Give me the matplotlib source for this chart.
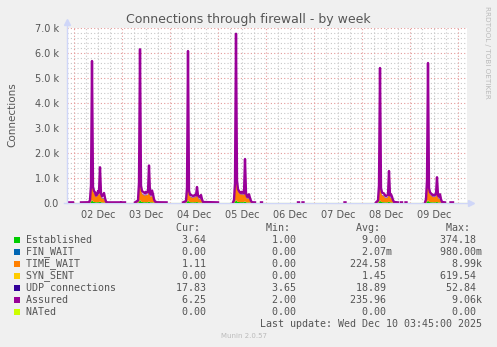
import numpy as np
import matplotlib
matplotlib.use("Agg")
import matplotlib.pyplot as plt
from matplotlib.patches import Rectangle

nan = np.nan

# hours since 02 Dec 00:00, 30-minute RRD samples (NaN = unknown)
hours = [
    -3.5, -0.5, 0.0,
    3.5, 7.5, 8.0, 8.5, 9.0, 9.5, 10.0, 10.5, 11.0, 11.5, 12.0, 12.5, 13.0, 13.5, 14.0, 14.5, 15.0, 15.5, 16.0, 16.5, 23.0, 23.25,
    23.75, 25.5, 26.0,
    30.5, 32.0, 32.5, 33.0, 33.5, 34.0, 34.5, 35.0, 35.5, 36.0, 36.5, 37.0, 37.5, 38.0, 38.5, 39.0, 39.5, 40.0, 40.5, 41.5, 46.3, 46.5,
    54.5, 56.0, 56.5, 57.0, 57.5, 58.0, 58.5, 59.0, 59.5, 60.0, 60.5, 61.0, 61.5, 62.0, 62.5, 63.0, 63.5, 64.0, 64.5, 72.0, 72.25,
    79.5, 80.0, 80.5, 81.0, 81.5, 82.0, 82.5, 83.0, 83.5, 84.0, 84.5, 85.0, 85.5, 86.0, 86.5, 87.0, 87.5, 88.0, 88.5, 89.0, 90.5, 91.0,
    93.5, 94.0, 94.5,
    112.0, 112.5, 113.0,
    114.25, 114.75, 115.0,
    135.25, 135.75, 136.0,
    151.0, 152.0, 152.5, 153.0, 153.5, 154.0, 154.5, 155.0, 155.5, 156.0, 156.5, 157.0, 157.5, 158.0, 158.5, 159.0, 159.5, 160.0, 162.0, 162.5,
    163.5, 164.0, 164.5,
    165.75, 166.25, 166.5,
    175.5, 176.0, 176.5, 177.0, 177.5, 178.0, 178.5, 179.0, 179.5, 180.0, 180.5, 181.0, 181.5, 182.0, 182.5, 183.0, 183.5, 184.0, 185.5, 186.0,
    188.25, 189.5, 190.0,
]
established = [
    3, 3, nan,
    3, 3, 10, 40, 120, 60, 40, 35, 30, 30, 35, 30, 60, 30, 20, 20, 20, 10, 5, 3, 3, nan,
    3, 3, nan,
    3, 8, 40, 130, 60, 40, 35, 30, 30, 35, 30, 30, 60, 30, 25, 30, 20, 10, 5, 3, 3, nan,
    3, 8, 35, 120, 50, 35, 30, 30, 25, 30, 30, 30, 45, 25, 20, 20, 25, 10, 4, 3, nan,
    3, 10, 40, 130, 70, 45, 40, 35, 35, 35, 35, 30, 70, 30, 20, 20, 25, 15, 6, 3, 3, nan,
    3, 3, nan,
    3, 3, nan,
    3, 3, nan,
    3, 3, nan,
    3, 8, 35, 110, 50, 35, 30, 30, 25, 25, 25, 30, 55, 25, 25, 20, 10, 5, 3, nan,
    3, 3, nan,
    3, 3, nan,
    3, 12, 40, 110, 50, 35, 30, 30, 25, 30, 25, 30, 45, 25, 20, 25, 10, 5, 3, nan,
    3, 3, nan,
]
time_wait = [
    0, 0, nan,
    0, 0, 40, 380, 1800, 450, 340, 300, 200, 230, 320, 280, 500, 250, 150, 160, 150, 60, 5, 0, 0, nan,
    0, 0, nan,
    0, 30, 400, 2000, 480, 330, 300, 280, 250, 300, 280, 290, 600, 250, 200, 300, 200, 80, 20, 0, 0, nan,
    0, 20, 300, 1900, 350, 220, 200, 190, 170, 200, 210, 190, 350, 180, 130, 110, 150, 60, 5, 0, nan,
    0, 40, 500, 2500, 800, 450, 380, 330, 300, 320, 300, 270, 700, 250, 150, 150, 180, 100, 30, 0, 0, nan,
    0, 0, nan,
    0, 0, nan,
    0, 0, nan,
    0, 0, nan,
    0, 30, 400, 1800, 400, 280, 260, 240, 180, 170, 180, 200, 550, 180, 180, 120, 50, 10, 0, nan,
    0, 0, nan,
    0, 0, nan,
    0, 50, 500, 2000, 400, 300, 270, 250, 200, 220, 210, 230, 450, 180, 130, 160, 60, 10, 0, nan,
    0, 0, nan,
]
udp = [
    18, 18, nan,
    18, 17, 18, 20, 25, 22, 20, 19, 18, 18, 19, 18, 22, 18, 18, 18, 18, 17, 17, 18, 18, nan,
    18, 18, nan,
    17, 18, 20, 26, 22, 20, 19, 18, 18, 19, 18, 18, 22, 18, 18, 19, 18, 17, 17, 18, 18, nan,
    17, 18, 20, 25, 21, 19, 18, 18, 18, 18, 19, 18, 20, 18, 18, 18, 18, 17, 17, 18, nan,
    18, 18, 21, 27, 22, 20, 19, 19, 18, 19, 18, 18, 23, 18, 18, 18, 18, 17, 17, 18, 18, nan,
    18, 18, nan,
    18, 18, nan,
    18, 18, nan,
    18, 18, nan,
    17, 18, 20, 24, 21, 19, 18, 18, 18, 18, 18, 18, 21, 18, 18, 18, 17, 17, 18, nan,
    18, 18, nan,
    18, 18, nan,
    17, 18, 21, 25, 21, 19, 18, 18, 18, 18, 18, 18, 20, 18, 18, 18, 17, 17, 18, nan,
    18, 18, nan,
]
assured = [
    25, 25, nan,
    25, 30, 120, 700, 5680, 650, 480, 430, 300, 330, 480, 420, 1430, 380, 260, 330, 400, 200, 50, 25, 25, nan,
    25, 25, nan,
    25, 100, 800, 6150, 700, 480, 450, 420, 380, 450, 420, 430, 1500, 380, 330, 500, 350, 150, 60, 30, 25, nan,
    25, 80, 600, 6080, 500, 330, 320, 300, 280, 300, 320, 300, 640, 300, 250, 220, 320, 150, 40, 25, nan,
    25, 120, 800, 6770, 900, 550, 480, 420, 400, 450, 420, 380, 1760, 400, 250, 250, 350, 200, 80, 30, 25, nan,
    25, 25, nan,
    25, 25, nan,
    25, 25, nan,
    25, 25, nan,
    25, 100, 700, 5400, 600, 420, 400, 380, 300, 280, 300, 320, 1280, 300, 350, 250, 120, 40, 25, nan,
    25, 25, nan,
    25, 25, nan,
    25, 150, 900, 5600, 600, 430, 380, 350, 300, 330, 320, 350, 1030, 300, 250, 350, 150, 40, 25, nan,
    25, 25, nan,
]
nated_hours = [-3.5, 196.5]
nated = [0, 0]

day_labels = ["02 Dec", "03 Dec", "04 Dec", "05 Dec", "06 Dec", "07 Dec", "08 Dec", "09 Dec"]
y_ticks = [0, 1000, 2000, 3000, 4000, 5000, 6000, 7000]

legend_labels = ["Established", "FIN_WAIT", "TIME_WAIT", "SYN_SENT", "UDP connections", "Assured", "NATed"]
legend_colors = ["#00CC00", "#0066B3", "#FF8000", "#FFCC00", "#330099", "#990099", "#CCFF00"]
cur_vals = ["3.64", "0.00", "1.11", "0.00", "17.83", "6.25", "0.00"]
min_vals = ["1.00", "0.00", "0.00", "0.00", "3.65", "2.00", "0.00"]
avg_vals = ["9.00", "2.07m", "224.58", "1.45", "18.89", "235.96", "0.00"]
max_vals = ["374.18", "980.00m", "8.99k", "619.54", "52.84", "9.06k", "0.00"]

W, H = 497, 347
TXT = "#555555"
AXIS = "#CFD6F8"

fig = plt.figure(figsize=(W / 100, H / 100), dpi=100, facecolor="#F0F0F0")
ax = fig.add_axes([67 / W, (H - 203) / H, 400 / W, 175 / H], facecolor="white")


def px(x, y):
    return x / W, 1 - y / H


t = np.array(hours, dtype=float)
est = np.array(established, dtype=float)
tw = np.array(time_wait, dtype=float)
ud = np.array(udp, dtype=float)
asr = np.array(assured, dtype=float)

# grid: minor every 6h / 200, major per day / 1000
for h in np.arange(0, 197, 6):
    if h % 24:
        ax.axvline(h, color="#C8C8C8", lw=0.8, ls=(0, (1, 2)), zorder=0)
for v in range(200, 7000, 200):
    if v % 1000:
        ax.axhline(v, color="#C8C8C8", lw=0.8, ls=(0, (1, 2)), zorder=0)
for h in range(0, 197, 24):
    ax.axvline(h, color="#E49A9A", lw=0.8, ls=(0, (1, 2)), zorder=1)
for v in y_ticks[1:]:
    ax.axhline(v, color="#E49A9A", lw=0.8, ls=(0, (1, 2)), zorder=1)

# stacked areas
s1 = est
s2 = s1 + tw
s3 = s2 + ud
ax.fill_between(t, 0, s1, color=legend_colors[0], lw=0, zorder=2)
ax.fill_between(t, s1, s2, color=legend_colors[2], lw=0, zorder=2)
ax.fill_between(t, s2, s3, color=legend_colors[4], lw=0, zorder=2)
ax.plot(t, asr, color=legend_colors[5], lw=1.7, zorder=3)
ax.plot(nated_hours, nated, color=legend_colors[6], lw=0.8, zorder=4)

ax.set_xlim(-3.5, 196.5)
ax.set_ylim(0, 7000)
ax.set_xticks([12 + 24 * i for i in range(len(day_labels))])
ax.set_xticklabels(day_labels)
ax.set_yticks(y_ticks)
ax.set_yticklabels(["0.0"] + [f"{v / 1000:.1f} k" for v in y_ticks[1:]])
ax.tick_params(length=0, labelsize=7, labelcolor=TXT, pad=6)
ax.tick_params(axis="x", pad=5)
for s in ax.spines.values():
    s.set_visible(False)

# axis lines with arrows
ax.plot([0, 0], [0, 1.035], transform=ax.transAxes, color=AXIS, lw=1, clip_on=False, zorder=5)
ax.plot([-0.008, 1.01], [0, 0], transform=ax.transAxes, color=AXIS, lw=1, clip_on=False, zorder=1)
ax.plot(0, 1.035, marker="^", ms=5, color=AXIS, transform=ax.transAxes, clip_on=False)
ax.plot(1.01, 0, marker=">", ms=5, color=AXIS, transform=ax.transAxes, clip_on=False)

fig.text(*px(248, 19), "Connections through firewall - by week", ha="center", va="center",
         fontsize=9, color=TXT)
fig.text(*px(12, 115), "Connections", rotation=90, ha="center", va="center", fontsize=7.5, color=TXT)
fig.text(*px(487, 52), "RRDTOOL / TOBI OETIKER", rotation=270, ha="center", va="center",
         fontsize=5.2, color="#BBBBBB")

# legend block (monospace, rrdtool style columns)
mono = dict(family="DejaVu Sans Mono", fontsize=7.2, color=TXT, va="center", ha="left")


def fmt(v):
    return v.rjust(15) if v[-1].isalpha() else (v + " ").rjust(15)


header = " " * 16 + "".join(f"{h:>13}  " for h in ["Cur:", "Min:", "Avg:", "Max:"])
fig.text(*px(26, 228), header, **mono)
for i, lab in enumerate(legend_labels):
    y = 240 + 12 * i
    row = f"{lab:<16}" + fmt(cur_vals[i]) + fmt(min_vals[i]) + fmt(avg_vals[i]) + fmt(max_vals[i])
    fig.text(*px(26, y), row, **mono)
    fig.patches.append(Rectangle(px(14, y + 3), 6 / W, 6 / H, transform=fig.transFigure,
                                 facecolor=legend_colors[i], edgecolor="none"))
fig.text(*px(26 + 39 * 6, 324), "Last update: Wed Dec 10 03:45:00 2025", **mono)
fig.text(*px(244, 336), "Munin 2.0.57", ha="center", va="center", fontsize=5, color="#BBBBBB")

fig.savefig("out.png", dpi=100, facecolor=fig.get_facecolor())
